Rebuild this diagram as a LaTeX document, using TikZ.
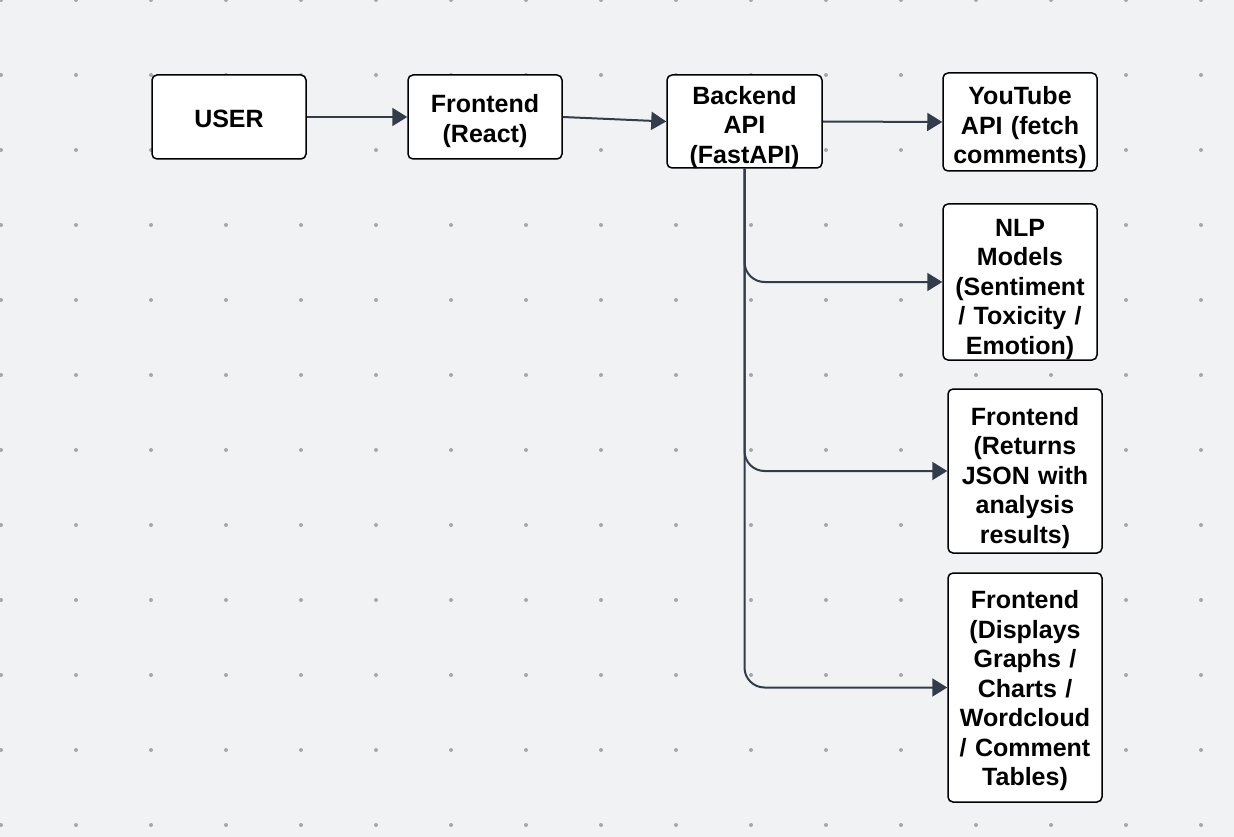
\documentclass[tikz,border=0pt]{standalone}
\usepackage{fontspec}
\setmainfont{Liberation Sans}
\usetikzlibrary{arrows.meta}
\definecolor{bgc}{HTML}{F1F2F4}
\definecolor{dotc}{HTML}{A6A8AC}
\definecolor{linec}{HTML}{323C4B}
\tikzset{
  box/.style={draw=black, line width=1.5pt, fill=white, rounded corners=5pt,
    inner sep=0pt},
  lbl/.style={align=center, inner sep=0pt, text width=152pt,
    font=\fontsize{25}{29.5}\selectfont\bfseries},
  arr/.style={draw=linec, line width=2pt,
    -{Triangle[length=15pt,width=18pt]}},
  branch/.style={arr, rounded corners=20pt}
}
\begin{document}
\begin{tikzpicture}[x=1pt,y=-1pt]
\fill[bgc] (0,0) rectangle (1234,837);
\useasboundingbox (0,0) rectangle (1234,837);
\foreach \i in {0,...,16}{
  \foreach \j in {0,...,11}{
    \fill[dotc] ({1+75*\i},{75*\j}) circle (2pt);
  }
}
\node[box, minimum width=154pt, minimum height=84pt,
  label={[lbl, yshift=-1.5pt]center:USER}] (user) at (229,117) {};
\node[box, minimum width=154pt, minimum height=84pt,
  label={[lbl, yshift=-4pt]center:{Frontend\\(React)}}] (fr) at (485,117) {};
\node[box, minimum width=155pt, minimum height=93pt,
  label={[lbl, yshift=-6pt]center:{Backend\\API\\(FastAPI)}}] (be) at (744.5,121.5) {};
\node[box, minimum width=154pt, minimum height=98pt,
  label={[lbl, yshift=-6pt]center:{YouTube\\API (fetch\\comments)}}] (yt) at (1020,122) {};
\node[box, minimum width=154pt, minimum height=156pt,
  label={[lbl, yshift=-7pt]center:{NLP\\Models\\(Sentiment\\/ Toxicity /\\Emotion)}}] (nlp) at (1020,282) {};
\node[box, minimum width=154pt, minimum height=164pt,
  label={[lbl, yshift=-7pt]center:{Frontend\\(Returns\\JSON with\\analysis\\results)}}] (ret) at (1025,471) {};
\node[box, minimum width=154pt, minimum height=229pt,
  label={[lbl, yshift=-3.5pt]center:{Frontend\\(Displays\\Graphs /\\Charts /\\Wordcloud\\/ Comment\\Tables)}}] (dis) at (1025,687.5) {};
\draw[arr] (user.east) -- (fr.west);
\draw[arr] (fr.east) -- (be.west);
\draw[arr] (be.east) -- (yt.west);
\draw[branch] (be.south) |- (nlp.west);
\draw[branch] (be.south) |- (ret.west);
\draw[branch] (be.south) |- (dis.west);
\end{tikzpicture}
\end{document}
